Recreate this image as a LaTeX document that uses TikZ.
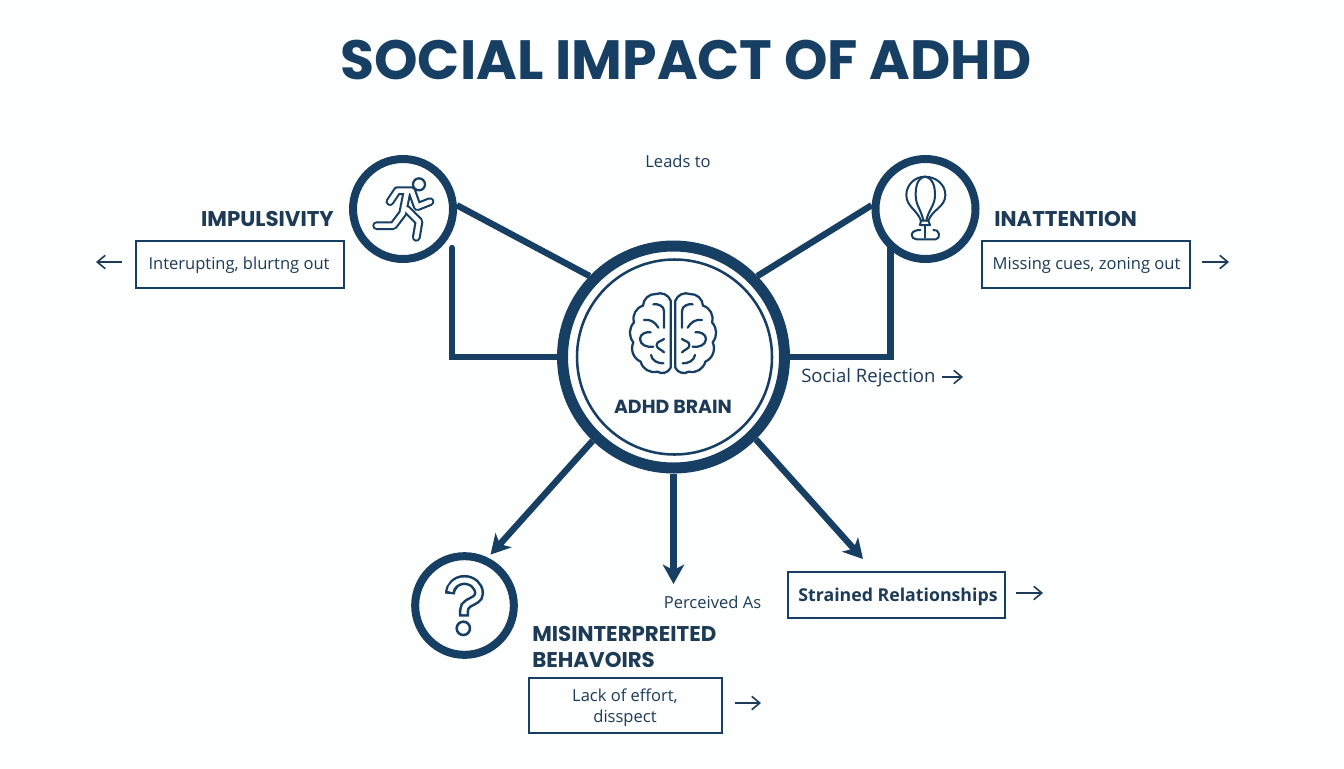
\documentclass[tikz,border=0pt]{standalone}
\usepackage{fontspec}
\setmainfont{Open Sans}
\newfontfamily\popp{Poppins}
\usetikzlibrary{arrows.meta,calc}
\definecolor{navy}{HTML}{173F63}
\definecolor{ink}{HTML}{1D3B57}
\definecolor{paper}{HTML}{FDFEFE}
\tikzset{
  ring/.style={circle,draw=navy,line width=6pt,minimum size=75pt,inner sep=0pt},
  link/.style={draw=navy,line width=4.8pt},
  linkarrow/.style={link,-{Stealth[length=14.5pt,width=16pt,inset=4pt]}},
  smallarrow/.style={draw=ink,line width=1.2pt,-{Straight Barb[length=6pt,width=10pt,line width=1.2pt]}},
  textbox/.style={draw=navy,line width=1.5pt,fill=paper,inner sep=0pt,align=center,text=ink},
  head/.style={font=\popp\bfseries\fontsize{16pt}{19.5pt}\selectfont,text=ink,inner sep=0pt},
  body/.style={font=\fontsize{12.4pt}{15.7pt}\selectfont,text=ink,inner sep=0pt},
  icon/.style={draw=navy,line width=1.7pt,line join=round,line cap=round},
}
\newcommand{\brainlobe}{%
  \draw[icon] (362,398) -- (362,197) to[bend right=45] (318,177) to[bend right=45] (279,212)
     to[bend right=45] (252,262) to[bend right=40] (250,322) to[bend right=45] (272,380)
     to[bend right=45] (322,410) to[bend right=50] (362,398);
  \draw[icon] (342,278) -- (342,228) to[out=90,in=10] (310,208);
  \draw[icon] (282,255) to[out=10,in=120] (325,278);
  \draw[icon] (302,292) to[out=170,in=90] (270,312) to[out=270,in=190] (310,335);
  \draw[icon] (342,312) to[out=220,in=90] (320,330) to[out=270,in=130] (342,352);
  \draw[icon] (303,360) to[out=280,in=180] (340,385);
}
\begin{document}
\begin{tikzpicture}[x=0.75pt,y=-0.75pt]
\fill[paper] (0,0) rectangle (1344,768);
\useasboundingbox (0,0) rectangle (1344,768);

\node[font=\popp\bfseries\fontsize{41.5pt}{45pt}\selectfont,text=navy,inner sep=0pt] (title) at (686,60) {SOCIAL IMPACT OF ADHD};
\node[body] (leads) at (678,161) {Leads to};

% circles
\node[circle,draw=navy,line width=8.25pt,minimum size=166.5pt,inner sep=0pt] (brain) at (673.5,357) {};
\node[circle,draw=navy,line width=1.9pt,minimum size=146.25pt,inner sep=0pt] (brainin) at (674.5,357) {};
\node[ring] (imp) at (403,209) {};
\node[ring] (ina) at (925.5,209) {};
\node[ring,minimum size=74pt] (que) at (464.5,605.5) {};

% free ends
\coordinate (impdrop) at (452,248);
\coordinate (inadrop) at (890.5,248);
\coordinate (perctip) at (673.5,584);
\coordinate (reltip) at (863,559);

% connectors
\draw[link] (imp.4) -- (brain.136);
\draw[link] (ina.176) -- (brain.44);
\draw[link,line cap=round] (impdrop) |- (brain.west);
\draw[link,line cap=round] (inadrop) |- (brain.east);
\draw[linkarrow,shorten >=3pt] (brain.226) -- (que.64);
\draw[linkarrow] (brain.south) -- (perctip);
\draw[linkarrow] (brain.315) -- (reltip);

% brain
\begin{scope}[shift={(550,235)},x=0.25pt,y=-0.25pt]
  \brainlobe
  \begin{scope}[shift={(738,0)},xscale=-1]
  \brainlobe
  \end{scope}
\end{scope}
\node[head,font=\popp\bfseries\fontsize{14.2pt}{16pt}\selectfont] (brainlabel) at (673,407) {ADHD BRAIN};

% runner
\begin{scope}[shift={(340,150)},x=0.25pt,y=-0.25pt]
  \draw[icon] (237,103) circle (18);
  \foreach \c/\w in {navy/6.6pt,paper/3.4pt}{
    \draw[\c,line width=\w,line join=round,line cap=round]
       (150,155) -- (172,122) -- (215,122) -- (232,170) -- (270,155);
    \draw[\c,line width=\w,line join=round,line cap=round]
       (200,130) -- (188,190) -- (160,227) -- (110,227);
    \draw[\c,line width=\w,line join=round,line cap=round]
       (200,178) -- (237,215) -- (229,262);
  }
\end{scope}

% balloon
\begin{scope}[shift={(865,150)},x=0.25pt,y=-0.25pt]
  \draw[icon,line width=1.5pt] (180,80) to[out=0,in=90] (241,135) to[out=270,in=70] (190,212) -- (168,212)
     to[out=110,in=270] (124,135) to[out=90,in=180] (180,80);
  \draw[icon,line width=1.5pt] (180,80) to[out=190,in=90] (152,135) to[out=270,in=100] (175,212);
  \draw[icon,line width=1.5pt] (180,80) to[out=350,in=90] (210,135) to[out=270,in=80] (184,212);
  \draw[icon,line width=1.5pt] (168,212) -- (165,225) -- (195,225) -- (190,212);
  \draw[icon,line width=1.5pt] (180,225) -- (180,263);
  \draw[icon,line width=1.5pt] (166,240) to[out=180,in=80] (140,254) to[out=260,in=180] (155,268) -- (212,268)
     to[out=0,in=280] (222,252) to[out=100,in=20] (205,240);
\end{scope}

% question
\begin{scope}[shift={(405,540)},x=0.25pt,y=-0.25pt]
  \foreach \c/\w/\s in {navy/7.6pt/0pt,paper/3.8pt/1.9pt}{
    \draw[\c,line width=\w,line join=miter,shorten <=\s,shorten >=\s]
      (135,162) to[out=90,in=180] (178,120) to[out=0,in=90] (222,160)
      to[out=270,in=30] (190,190) to[out=210,in=90] (177,212) -- (177,230);
  }
  \draw[icon,line width=1.9pt] (175,265) circle (20);
\end{scope}

% labels and boxes
\node[head,anchor=east] (implabel) at (334,219) {IMPULSIVITY};
\node[head,anchor=west] (inalabel) at (994,219) {INATTENTION};
\node[textbox,minimum width=156pt,minimum height=35.25pt] (impbox) at (239.5,264.5) {};
\node[body] (imptext) at (239,265) {Interupting, blurtng out};
\node[textbox,minimum width=156pt,minimum height=35.25pt] (inabox) at (1086,264.5) {};
\node[body] (inatext) at (1086.5,265) {Missing cues, zoning out};
\node[head,anchor=north west,align=left] (mislabel) at (532,626) {MISINTERPREITED\\BEHAVOIRS};
\node[textbox,minimum width=144.75pt,minimum height=41pt] (misbox) at (625.5,705.5) {};
\node[body,align=center] (mistext) at (625,708) {Lack of effort,\\disspect};
\node[textbox,minimum width=162.75pt,minimum height=34.5pt] (relbox) at (896.5,595) {};
\node[body,font=\bfseries\fontsize{13.3pt}{15pt}\selectfont] (reltext) at (898,596.5) {Strained Relationships};
\node[body] (perc) at (712.5,602.5) {Perceived As};
\node[body,anchor=west,font=\fontsize{13.9pt}{16pt}\selectfont] (social) at (801,378) {Social Rejection};

% small arrows
\coordinate (a1s) at (122,262); \coordinate (a1e) at (96,262);
\coordinate (a2s) at (1202,262); \coordinate (a2e) at (1229,262);
\coordinate (a3s) at (735,703); \coordinate (a3e) at (761,703);
\coordinate (a4s) at (1016,593); \coordinate (a4e) at (1043,593);
\coordinate (a5s) at (942,377); \coordinate (a5e) at (963,377);
\draw[smallarrow] (a1s) -- (a1e);
\draw[smallarrow] (a2s) -- (a2e);
\draw[smallarrow] (a3s) -- (a3e);
\draw[smallarrow] (a4s) -- (a4e);
\draw[smallarrow] (a5s) -- (a5e);
\end{tikzpicture}
\end{document}
